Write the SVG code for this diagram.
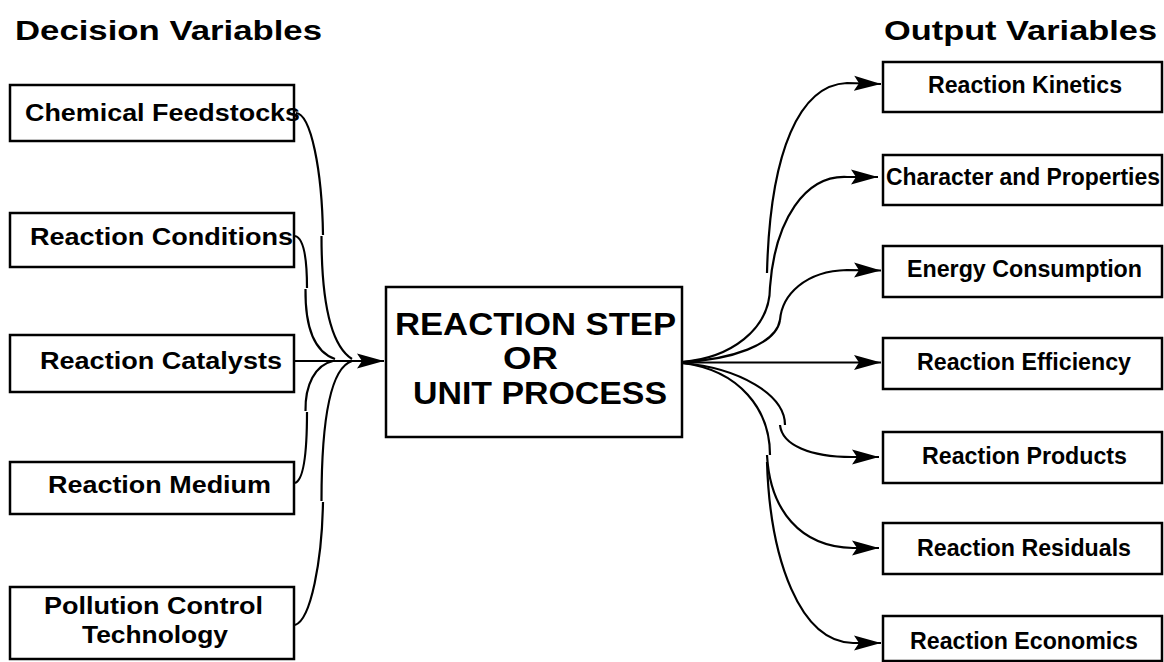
<svg xmlns="http://www.w3.org/2000/svg" width="1164" height="662" viewBox="0 0 1164 662">
<style>
.box{fill:#fff;stroke:#000;stroke-width:2.5}
.t{font-family:"Liberation Sans",Arial,sans-serif;font-weight:bold;fill:#000}
.lbl{font-size:23px}
.big{font-size:32px}
.ttl{font-size:28px}
.c{fill:none;stroke:#000;stroke-width:2.2}
.a{fill:none;stroke:#000;stroke-width:2.2;marker-end:url(#ah)}
</style>
<defs>
<marker id="ah" markerUnits="userSpaceOnUse" markerWidth="27" markerHeight="16" viewBox="0 0 27 16" refX="27" refY="8" orient="auto">
<path d="M0,0.5 L27,8 L0,15.5 L5,8 Z" fill="#000"/>
</marker>
</defs>
<rect width="1164" height="662" fill="#fff"/>
<g id="titles">
<text class="t ttl" x="15" y="40" textLength="307" lengthAdjust="spacingAndGlyphs">Decision Variables</text>
<text class="t ttl" x="884" y="40" textLength="273" lengthAdjust="spacingAndGlyphs">Output Variables</text>
</g>
<g id="connectors">
<path class="c" d="M296,113 C311,114 322,170 323,235"/>
<path class="c" d="M321.5,236 C321.5,300 330,345 352,359"/>
<path class="c" d="M295,236 C304,238 307,258 307,288"/>
<path class="c" d="M305.5,289 C305,330 315,352 335,359"/>
<path class="c" d="M295,483 C304,480 307,450 307,412"/>
<path class="c" d="M305.5,411 C305,385 315,365 333,361"/>
<path class="c" d="M295,625 C311,620 322,560 323,502"/>
<path class="c" d="M321.5,501 C321.5,420 330,368 352,361"/>
<path class="a" d="M294,361 L384,361"/>
<path class="a" d="M682,362.5 L881,362.5"/>
<path class="c" d="M682,362 C730,358 770,330 770,287"/>
<path class="a" d="M767,273 C770,150 800,85 847,83 L881,84"/>
<path class="a" d="M770,287 C775,220 805,175 847,177 L878,177"/>
<path class="c" d="M682,362 C730,360 776,345 780,320"/>
<path class="a" d="M780,320 C782,295 805,271 847,270 L881,270.5"/>
<path class="c" d="M682,363 C740,368 785,395 785,425"/>
<path class="a" d="M780,425 C782,445 810,457 852,457 L879,457"/>
<path class="c" d="M682,363 C740,370 770,410 770,455"/>
<path class="a" d="M767,455 C770,510 800,547 853,548 L879,548"/>
<path class="a" d="M767,462 C770,560 800,642 853,643 L881,643"/>
</g>
<g id="n-feedstocks"><rect class="box" x="10" y="85" width="284" height="56"/><text class="t lbl" x="25" y="121" textLength="275" lengthAdjust="spacingAndGlyphs">Chemical Feedstocks</text></g>
<g id="n-conditions"><rect class="box" x="10" y="213" width="284" height="54"/><text class="t lbl" x="30" y="245" textLength="263" lengthAdjust="spacingAndGlyphs">Reaction Conditions</text></g>
<g id="n-catalysts"><rect class="box" x="10" y="335" width="284" height="57"/><text class="t lbl" x="40" y="369" textLength="242" lengthAdjust="spacingAndGlyphs">Reaction Catalysts</text></g>
<g id="n-medium"><rect class="box" x="10" y="462" width="284" height="52"/><text class="t lbl" x="48" y="493" textLength="223" lengthAdjust="spacingAndGlyphs">Reaction Medium</text></g>
<g id="n-pollution"><rect class="box" x="10" y="587" width="284" height="72"/><text class="t lbl" x="44" y="614" textLength="219" lengthAdjust="spacingAndGlyphs">Pollution Control</text><text class="t lbl" x="82" y="643" textLength="146" lengthAdjust="spacingAndGlyphs">Technology</text></g>
<g id="n-center"><rect class="box" x="386" y="287" width="296" height="150"/><text class="t big" x="395" y="335" textLength="281" lengthAdjust="spacingAndGlyphs">REACTION STEP</text><text class="t big" x="503" y="369" textLength="55" lengthAdjust="spacingAndGlyphs">OR</text><text class="t big" x="413" y="404" textLength="254" lengthAdjust="spacingAndGlyphs">UNIT PROCESS</text></g>
<g id="n-kinetics"><rect class="box" x="883" y="62" width="279" height="50"/><text class="t lbl" x="928" y="93" textLength="194" lengthAdjust="spacingAndGlyphs">Reaction Kinetics</text></g>
<g id="n-character"><rect class="box" x="883" y="155" width="279" height="50"/><text class="t lbl" x="886" y="185" textLength="274" lengthAdjust="spacingAndGlyphs">Character and Properties</text></g>
<g id="n-energy"><rect class="box" x="883" y="246" width="279" height="51"/><text class="t lbl" x="907" y="277" textLength="235" lengthAdjust="spacingAndGlyphs">Energy Consumption</text></g>
<g id="n-efficiency"><rect class="box" x="883" y="338" width="279" height="51"/><text class="t lbl" x="917" y="370" textLength="214" lengthAdjust="spacingAndGlyphs">Reaction Efficiency</text></g>
<g id="n-products"><rect class="box" x="883" y="432" width="279" height="51"/><text class="t lbl" x="922" y="464" textLength="205" lengthAdjust="spacingAndGlyphs">Reaction Products</text></g>
<g id="n-residuals"><rect class="box" x="883" y="523" width="279" height="51"/><text class="t lbl" x="917" y="556" textLength="214" lengthAdjust="spacingAndGlyphs">Reaction Residuals</text></g>
<g id="n-economics"><rect class="box" x="883" y="616" width="279" height="45"/><text class="t lbl" x="910" y="649" textLength="228" lengthAdjust="spacingAndGlyphs">Reaction Economics</text></g>
</svg>
